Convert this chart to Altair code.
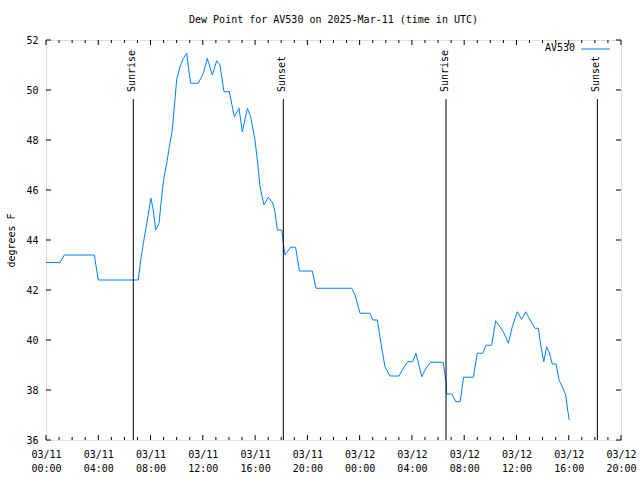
import altair as alt
import pandas as pd

# Dew point series (hours since 2025-03-11 00:00 UTC, degrees F)
hours = [0, 1.07, 1.4, 3.7, 4.0, 7.06, 7.25, 7.45, 7.71, 8.03, 8.21, 8.39, 8.65, 8.85,
         9.03, 9.24, 9.44, 9.66, 9.82, 10.0, 10.25, 10.51, 10.77, 10.89, 11.07, 11.65,
         12.04, 12.34, 12.73, 13.06, 13.31, 13.62, 14.03, 14.41, 14.77, 15.02, 15.41,
         15.66, 15.99, 16.2, 16.38, 16.68, 17.01, 17.35, 17.52, 17.7, 18.04, 18.16,
         18.29, 18.47, 18.72, 19.1, 19.39, 20.38, 20.66, 23.39, 23.65, 24.03, 24.79,
         25.0, 25.35, 25.63, 25.94, 26.32, 27.01, 27.34, 27.68, 28.06, 28.31, 28.75,
         29.08, 29.43, 30.4, 30.61, 30.66, 31.05, 31.37, 31.7, 31.95, 32.7, 33.0,
         33.42, 33.67, 34.1, 34.41, 34.74, 35.05, 35.38, 35.68, 36.07, 36.4, 36.71,
         37.04, 37.42, 37.67, 37.88, 38.09, 38.31, 38.49, 38.74, 39.03, 39.26, 39.51,
         39.77, 39.92, 40.04]
dewpoint = [43.1, 43.1, 43.4, 43.4, 42.4, 42.4, 43.2, 43.87, 44.67, 45.67, 45.2, 44.4,
            44.67, 45.73, 46.53, 47.07, 47.73, 48.4, 49.33, 50.4, 50.93, 51.27, 51.47,
            50.93, 50.27, 50.27, 50.67, 51.27, 50.6, 51.17, 51.0, 49.93, 49.93, 48.93,
            49.27, 48.33, 49.27, 48.93, 48.0, 47.07, 46.13, 45.4, 45.71, 45.49, 45.13,
            44.4, 44.4, 43.87, 43.4, 43.53, 43.71, 43.71, 42.76, 42.76, 42.07, 42.07,
            41.8, 41.07, 41.07, 40.8, 40.8, 39.87, 38.93, 38.56, 38.56, 38.87, 39.13,
            39.13, 39.47, 38.53, 38.87, 39.11, 39.11, 38.33, 37.84, 37.84, 37.53, 37.53,
            38.51, 38.51, 39.47, 39.47, 39.79, 39.79, 40.77, 40.53, 40.27, 39.87, 40.53,
            41.13, 40.83, 41.13, 40.8, 40.47, 40.47, 39.73, 39.13, 39.73, 39.53, 39.04,
            39.04, 38.4, 38.13, 37.8, 37.2, 36.8]

event_hours = [6.68, 18.16, 30.61, 42.19]
event_labels = ["Sunrise", "Sunset", "Sunrise", "Sunset"]

x_major = list(range(0, 45, 4))
x_minor = [h for h in range(0, 45) if h % 4 != 0]
y_major = list(range(36, 53, 2))

FONT = "DejaVu Sans Mono"
BLUE = "#0080ff"

df = pd.DataFrame({"h": hours, "v": dewpoint})
ev = pd.DataFrame({"h": event_hours, "label": event_labels})
xmaj = pd.DataFrame({"h": x_major})
xmin = pd.DataFrame({"h": x_minor})
ymaj = pd.DataFrame({"v": y_major})
legend_df = pd.DataFrame({"name": ["AV530"]})

xscale = alt.Scale(domain=[0, 44], nice=False, zero=False)
yscale = alt.Scale(domain=[36, 52], nice=False, zero=False)

label_expr = ("['03/' + (datum.value < 24 ? '11' : '12'), "
              "((datum.value % 24) < 10 ? '0' : '') + (datum.value % 24) + ':00']")
xaxis = alt.Axis(values=x_major, labelExpr=label_expr, title=None, domain=False,
                 ticks=False, grid=False, labelPadding=9, labelLineHeight=14,
                 labelFont=FONT, labelFontSize=10, labelColor="black", labelFlush=False)
yaxis = alt.Axis(values=y_major, title="degrees F", domain=False, ticks=False, grid=False,
                 labelPadding=8, labelFont=FONT, labelFontSize=10, labelColor="black",
                 titleFont=FONT, titleFontSize=10, titleFontWeight="normal",
                 titleColor="black", titleX=-35, titleY=200, titleAngle=270,
                 titleAlign="center", titleBaseline="middle")

X = alt.X("h:Q", scale=xscale, axis=xaxis)
Y = alt.Y("v:Q", scale=yscale, axis=yaxis)

line = alt.Chart(df).mark_line(color=BLUE, strokeWidth=1).encode(x=X, y=Y)

ev_rule = alt.Chart(ev).mark_rule(color="black", strokeWidth=1).encode(
    x=X, y=alt.value(59), y2=alt.value(400))
ev_text = alt.Chart(ev).mark_text(angle=270, align="left", baseline="middle",
                                  font=FONT, fontSize=10, color="black", dy=-1).encode(
    x=X, y=alt.value(52), text="label:N")

bot_major = alt.Chart(xmaj).mark_rule(color="black").encode(x=X, y=alt.value(400), y2=alt.value(395))
top_major = alt.Chart(xmaj).mark_rule(color="black").encode(x=X, y=alt.value(0), y2=alt.value(5))
bot_minor = alt.Chart(xmin).mark_rule(color="black").encode(x=X, y=alt.value(400), y2=alt.value(397))
top_minor = alt.Chart(xmin).mark_rule(color="black").encode(x=X, y=alt.value(0), y2=alt.value(3))
left_major = alt.Chart(ymaj).mark_rule(color="black").encode(y=Y, x=alt.value(0), x2=alt.value(5))
right_major = alt.Chart(ymaj).mark_rule(color="black").encode(y=Y, x=alt.value(575), x2=alt.value(570))

leg_text = alt.Chart(legend_df).mark_text(align="right", baseline="middle", font=FONT,
                                          fontSize=10, color="black").encode(
    x=alt.value(529), y=alt.value(8), text="name:N")
leg_line = alt.Chart(legend_df).mark_rule(color=BLUE, strokeWidth=1).encode(
    x=alt.value(535), x2=alt.value(564), y=alt.value(9))

chart = alt.layer(
    line, ev_rule, ev_text, bot_major, top_major, bot_minor, top_minor,
    left_major, right_major, leg_text, leg_line
).properties(
    width=575, height=400,
    title=alt.TitleParams("Dew Point for AV530 on 2025-Mar-11 (time in UTC)",
                          font=FONT, fontSize=10, fontWeight="normal", color="black",
                          anchor="middle", offset=10),
    autosize=alt.AutoSizeParams(type="none"),
    padding={"left": 46, "top": 40, "right": 19, "bottom": 40},
).configure_view(stroke="black", strokeWidth=1).configure(background="white")

chart.save("out.html", embed_options={"renderer": "svg", "actions": False})
